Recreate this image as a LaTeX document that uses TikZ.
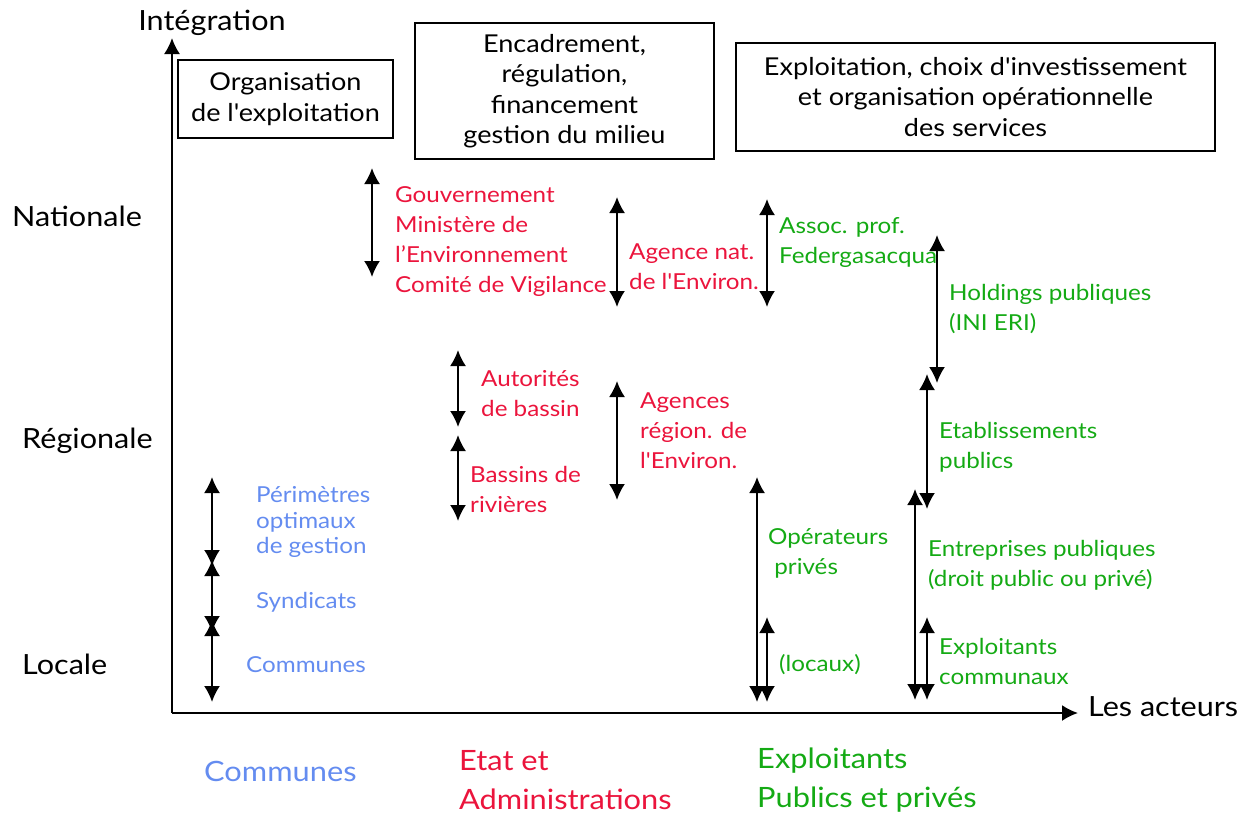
\documentclass[tikz,border=0pt]{standalone}
\usepackage{fontspec}
\setmainfont{Lato}[FakeStretch=1.1, Ligatures=TeXOff]
\usetikzlibrary{arrows.meta}
\definecolor{rouge}{RGB}{235,20,60}
\definecolor{vert}{RGB}{20,170,20}
\definecolor{bleu}{RGB}{100,140,240}
\begin{document}
\begin{tikzpicture}[x=1pt,y=-1pt,
  dbl/.style={{Latex[width=16pt,length=16pt]}-{Latex[width=16pt,length=16pt]}, line width=2pt},
  axis/.style={-{Latex[width=16pt,length=16pt]}, line width=2pt},
  lbl/.style={anchor=west, inner sep=0pt, align=left, font=\fontsize{22}{30}\selectfont},
  sml/.style={anchor=west, inner sep=0pt, align=left, font=\fontsize{22}{25.5}\selectfont, text=bleu},
  big/.style={anchor=west, inner sep=0pt, align=left, font=\fontsize{28}{39}\selectfont},
  lvl/.style={inner sep=0pt, font=\fontsize{27.8}{30}\selectfont},
  box/.style={draw, line width=2pt, inner sep=0pt, align=center, font=\fontsize{24.6}{30.5}\selectfont}]
\useasboundingbox (0,0) rectangle (1248,814);

% axes
\coordinate (O) at (172,713);
\coordinate (Ytop) at (172,38);
\coordinate (Xend) at (1078,713);
\draw[axis] (O) -- (Ytop);
\draw[axis] (O) -- (Xend);
\node[lvl] (integ) at (212,23) {Intégration};
\node[lvl, anchor=west] (acteurs) at (1088,707) {Les acteurs};
\node[lvl, anchor=west] (nat) at (12,216) {Nationale};
\node[lvl, anchor=west] (reg) at (22,441) {Régionale};
\node[lvl, anchor=west] (loc) at (22,664) {Locale};

% boxes
\node[box, minimum width=215pt, minimum height=78pt] (b1) at (285.5,99) {Organisation\\de l'exploitation};
\node[box, minimum width=299pt, minimum height=136pt] (b2) at (564.5,91) {Encadrement,\\régulation,\\financement\\gestion du milieu};
\node[box, minimum width=479pt, minimum height=108pt] (b3) at (975.5,97) {Exploitation, choix d'investissement\\et organisation opérationnelle\\des services};

% arrow end points
\coordinate (a1t) at (372,168); \coordinate (a1b) at (372,277);
\coordinate (a2t) at (617,197); \coordinate (a2b) at (617,307);
\coordinate (a3t) at (767,199); \coordinate (a3b) at (767,307);
\coordinate (a4t) at (937,235); \coordinate (a4b) at (937,383);
\coordinate (a5t) at (927,374); \coordinate (a5b) at (927,509);
\coordinate (a6t) at (915,489); \coordinate (a6b) at (915,700);
\coordinate (a7t) at (927,617); \coordinate (a7b) at (927,700);
\coordinate (a8t) at (757,477); \coordinate (a8b) at (757,702);
\coordinate (a9t) at (767,617); \coordinate (a9b) at (767,702);
\coordinate (a10t) at (458,350); \coordinate (a10b) at (458,427);
\coordinate (a11t) at (458,435); \coordinate (a11b) at (458,521);
\coordinate (a12t) at (617,381); \coordinate (a12b) at (617,500);
\coordinate (a13t) at (212,477); \coordinate (a13b) at (212,566);
\coordinate (a14t) at (212,560); \coordinate (a14b) at (212,632);
\coordinate (a15t) at (212,620); \coordinate (a15b) at (212,702);

\foreach \i in {1,...,15} {\draw[dbl] (a\i t) -- (a\i b);}

% red labels
\node[lbl, text=rouge] (gouv) at (395,242) {Gouvernement\\Ministère de\\l’Environnement\\Comité de Vigilance};
\node[lbl, text=rouge] (agnat) at (629,267) {Agence nat.\\de l'Environ.};
\node[lbl, text=rouge] (autor) at (481,394) {Autorités\\de bassin};
\node[lbl, text=rouge] (bassins) at (470,489) {Bassins de\\rivières};
\node[lbl, text=rouge] (agreg) at (640,431) {Agences\\région. de\\l'Environ.};

% green labels
\node[lbl, text=vert] (assoc) at (779,243) {Assoc. prof.\\Federgasacqua};
\node[lbl, text=vert] (hold) at (949,309) {Holdings publiques\\(INI ERI)};
\node[lbl, text=vert] (etab) at (939,447) {Etablissements\\publics};
\node[lbl, text=vert] (entr) at (928,565) {Entreprises publiques\\(droit public ou privé)};
\node[lbl, text=vert] (expc) at (939,661) {Exploitants\\communaux};
\node[lbl, text=vert] (oper) at (768,553) {Opérateurs\\\ privés};
\node[lbl, text=vert] (locaux) at (779,665) {(locaux)};

% blue labels
\node[sml] (perim) at (256,522) {Périmètres\\optimaux\\de gestion};
\node[sml] (synd) at (256,602) {Syndicats};
\node[sml] (comm) at (246,665) {Communes};

% bottom categories
\node[big, text=bleu] (catC) at (204,771) {Communes};
\node[big, text=rouge] (catE) at (459,780) {Etat et\\Administrations};
\node[big, text=vert] (catX) at (757,780) {Exploitants\\Publics et privés};
\end{tikzpicture}
\end{document}
